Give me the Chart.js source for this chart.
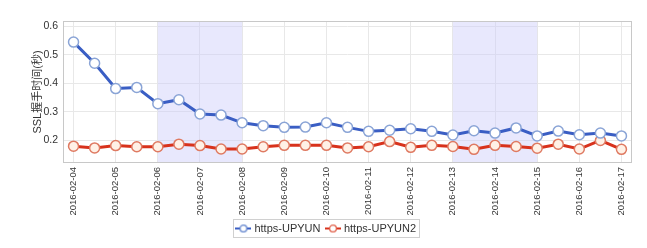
<!DOCTYPE html>
<html>
<head>
<meta charset="utf-8">
<script src="https://cdn.jsdelivr.net/npm/chart.js@4"></script>
<style>
  html, body { margin: 0; padding: 0; background: #fff; }
  #wrap { width: 647px; height: 248px; }
</style>
</head>
<body>
<div id="wrap"><canvas id="sslChart" width="647" height="248"></canvas></div>
<script>
// half-day samples, labelled days shown on the axis
const categories = [
  "2016-02-04 00:00", "2016-02-04 12:00", "2016-02-05 00:00", "2016-02-05 12:00",
  "2016-02-06 00:00", "2016-02-06 12:00", "2016-02-07 00:00", "2016-02-07 12:00",
  "2016-02-08 00:00", "2016-02-08 12:00", "2016-02-09 00:00", "2016-02-09 12:00",
  "2016-02-10 00:00", "2016-02-10 12:00", "2016-02-11 00:00", "2016-02-11 12:00",
  "2016-02-12 00:00", "2016-02-12 12:00", "2016-02-13 00:00", "2016-02-13 12:00",
  "2016-02-14 00:00", "2016-02-14 12:00", "2016-02-15 00:00", "2016-02-15 12:00",
  "2016-02-16 00:00", "2016-02-16 12:00", "2016-02-17 00:00"
];
const upyun = [
  0.544, 0.470, 0.381, 0.385, 0.328, 0.342, 0.292, 0.288, 0.261, 0.251,
  0.245, 0.246, 0.261, 0.245, 0.231, 0.235, 0.240, 0.231, 0.218, 0.233,
  0.225, 0.243, 0.215, 0.232, 0.219, 0.225, 0.215
];
const upyun2 = [
  0.179, 0.173, 0.181, 0.177, 0.177, 0.186, 0.181, 0.169, 0.169, 0.177,
  0.182, 0.182, 0.182, 0.173, 0.177, 0.195, 0.175, 0.182, 0.178, 0.168,
  0.182, 0.178, 0.172, 0.186, 0.169, 0.199, 0.168
];
const yTicks = [0.2, 0.3, 0.4, 0.5, 0.6];
const shadedRanges = [
  ["2016-02-06 00:00", "2016-02-08 00:00"],
  ["2016-02-13 00:00", "2016-02-15 00:00"]
];

const FONT = "'Liberation Sans', Arial, sans-serif";
const TEXT = "#333";

// small line+circle image for the legend symbols
function legendSymbol(line, stroke, fill) {
  const c = document.createElement("canvas");
  c.width = 16; c.height = 10;
  const g = c.getContext("2d");
  g.strokeStyle = line; g.lineWidth = 2;
  g.beginPath(); g.moveTo(0, 5); g.lineTo(16, 5); g.stroke();
  g.beginPath(); g.arc(8, 5, 3.4, 0, Math.PI * 2);
  g.fillStyle = fill; g.fill();
  g.strokeStyle = stroke; g.lineWidth = 1.3; g.stroke();
  return c;
}
const symbols = [
  legendSymbol("#3a5ec4", "#5f82cc", "#fff"),
  legendSymbol("#d8321c", "#e0604a", "#fff")
];

const shadePlugin = {
  id: "shade",
  beforeDatasetsDraw(chart) {
    const { ctx, chartArea, scales } = chart;
    ctx.save();
    ctx.fillStyle = "rgba(205,205,250,0.45)";
    shadedRanges.forEach(([a, b]) => {
      const x1 = scales.x.getPixelForValue(categories.indexOf(a));
      const x2 = scales.x.getPixelForValue(categories.indexOf(b));
      ctx.fillRect(x1, chartArea.top, x2 - x1, chartArea.bottom - chartArea.top);
    });
    ctx.restore();
  },
  afterDraw(chart) {
    const { ctx, chartArea } = chart;
    ctx.save();
    ctx.strokeStyle = "#c8c8c8";
    ctx.lineWidth = 1;
    ctx.strokeRect(chartArea.left + 0.5, chartArea.top + 0.5,
      chartArea.right - chartArea.left - 1, chartArea.bottom - chartArea.top - 1);
    // legend box border
    const boxes = chart.legend.legendHitBoxes;
    if (boxes && boxes.length) {
      const first = boxes[0], last = boxes[boxes.length - 1];
      ctx.strokeStyle = "#d0d0d0";
      ctx.strokeRect(Math.round(first.left) - 4.5, Math.round(first.top) - 3.5,
        Math.round(last.left + last.width - first.left) + 8, Math.round(first.height) + 7);
    }
    ctx.restore();
  }
};

new Chart(document.getElementById("sslChart"), {
  type: "line",
  data: {
    labels: categories,
    datasets: [
      {
        label: "https-UPYUN",
        data: upyun,
        borderColor: "#3a5ec4",
        borderWidth: 3,
        pointRadius: 5,
        pointBorderWidth: 1.5,
        pointBackgroundColor: "#ffffff",
        pointBorderColor: "#8aa4d6",
        tension: 0
      },
      {
        label: "https-UPYUN2",
        data: upyun2,
        borderColor: "#d8321c",
        borderWidth: 3,
        pointRadius: 5,
        pointBorderWidth: 1.5,
        pointBackgroundColor: "#fff1e6",
        pointBorderColor: "#df7a62",
        tension: 0
      }
    ]
  },
  options: {
    responsive: false,
    animation: false,
    layout: { padding: { top: 21, right: 15, left: 22, bottom: 4 } },
    plugins: {
      tooltip: { enabled: false },
      legend: {
        position: "bottom",
        labels: {
          usePointStyle: true,
          color: TEXT,
          font: { family: FONT, size: 11 },
          padding: 7,
          boxWidth: 16,
          generateLabels: chart => {
            const items = Chart.defaults.plugins.legend.labels.generateLabels(chart);
            items.forEach((it, i) => { it.pointStyle = symbols[i]; });
            return items;
          }
        }
      }
    },
    scales: {
      x: {
        offset: true,
        grid: { color: "#e8e8e8", offset: false, drawTicks: false },
        border: { display: false },
        afterBuildTicks: axis => {
          axis.ticks = axis.ticks.filter(t => t.value % 2 === 0);
        },
        afterFit: axis => { axis.height = 53; },
        ticks: {
          autoSkip: false,
          maxRotation: 90,
          minRotation: 90,
          padding: 4,
          color: TEXT,
          font: { family: FONT, size: 9.5 },
          callback: function (v) { return this.getLabelForValue(v).slice(0, 10); }
        }
      },
      y: {
        min: 0.12,
        max: 0.618,
        grid: { color: "#e8e8e8", drawTicks: false },
        border: { display: false },
        afterBuildTicks: axis => {
          axis.ticks = yTicks.map(v => ({ value: v }));
        },
        afterFit: axis => { axis.width = 41; },
        ticks: {
          padding: 5,
          color: TEXT,
          font: { family: FONT, size: 10.5 },
          callback: v => v.toFixed(1)
        },
        title: {
          display: true,
          text: "SSL握手时间(秒)",
          color: TEXT,
          font: { family: "'Liberation Sans', 'Noto Sans CJK SC', sans-serif", size: 11 },
          padding: { top: 9, bottom: 0 }
        }
      }
    }
  },
  plugins: [shadePlugin]
});
</script>
</body>
</html>
